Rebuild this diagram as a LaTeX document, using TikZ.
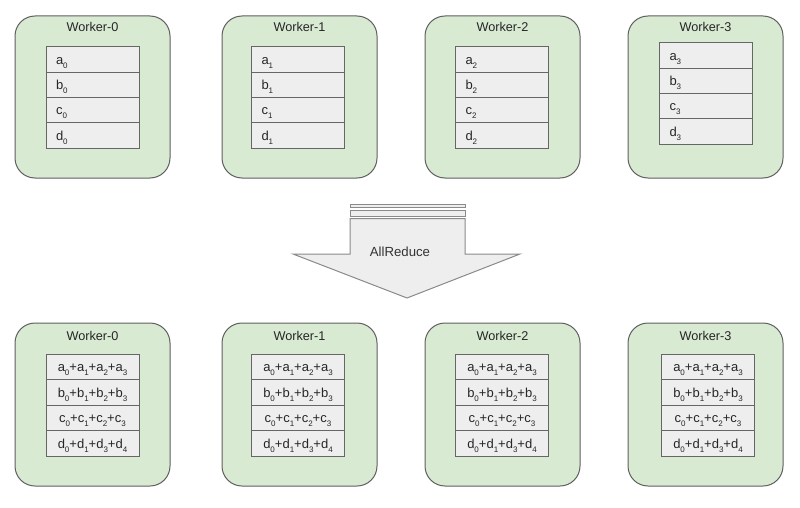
\documentclass[tikz,border=0pt]{standalone}
\usepackage{fontspec}
\setmainfont{Liberation Sans}
\definecolor{wgreen}{HTML}{D9EAD3}
\definecolor{wborder}{HTML}{5F5F5F}
\definecolor{cellfill}{HTML}{EEEEEE}
\definecolor{cellborder}{HTML}{666666}
\definecolor{arrowfill}{HTML}{EEEEEE}
\definecolor{arrowborder}{HTML}{8A8A8A}
\newcommand\sbs[1]{\raisebox{-4pt}{\fontsize{8}{8}\selectfont #1}}
\newcommand\sumrow[5]{#1\sbs{#2}+#1\sbs{#3}+#1\sbs{#4}+#1\sbs{#5}}
\begin{document}
\begin{tikzpicture}[x=1pt,y=-1pt,
  worker/.style={draw=wborder, fill=wgreen, rounded corners=20pt, line width=1pt,
    minimum width=155pt, minimum height=162pt, inner sep=0pt},
  wtitle/.style={font=\fontsize{12.7}{14}\selectfont, text=black!85, inner sep=0pt},
  cell/.style={draw=cellborder, fill=cellfill, line width=1pt, inner xsep=10pt, inner ysep=0pt,
    text width=73pt, align=left, minimum height=25.3pt, text height=11pt, text depth=1.5pt,
    font=\fontsize{13}{14}\selectfont, text=black!85},
  cellc/.style={cell, align=center},
  arrowshape/.style={draw=arrowborder, fill=arrowfill, line width=1pt, line join=miter},
  arrowtext/.style={font=\fontsize{13.2}{15}\selectfont, text=black!80, inner sep=0pt}
]
\useasboundingbox (0,0) rectangle (800,508);
% top row
\foreach \i/\cx/\sx/\sy in {0/92.5/92.5/47, 1/299.5/298/47, 2/502.5/502/47, 3/705.5/706/43} {
  \node[worker] (wt\i) at (\cx,97) {};
  \node[wtitle, anchor=base] (tt\i) at (\cx,32) {Worker-\i};
  \foreach \l [count=\k from 0] in {a,b,c,d} {
    \node[cell] (ct\i\l) at (\sx,{\sy+12.625+\k*25.25}) {\l\sbs{\i}};
  }
}
% arrow
\draw[arrowshape] (350,204) rectangle (465,207.5);
\draw[arrowshape] (350,210) rectangle (465,216);
\draw[arrowshape] (350,218.5) -- (465,218.5) -- (465,254) -- (520,254) -- (407,298)
  -- (293,254) -- (350,254) -- cycle;
\node[arrowtext, anchor=base] (ar) at (400,256) {AllReduce};
% bottom row
\foreach \i/\cx/\sx in {0/92.5/92.5, 1/299.5/298, 2/502.5/502, 3/705.5/708} {
  \node[worker, minimum height=163pt] (wb\i) at (\cx,404.5) {};
  \node[wtitle, anchor=base] (tb\i) at (\cx,340) {Worker-\i};
  \foreach \l/\p/\q/\r/\s [count=\k from 0] in {a/0/1/2/3, b/0/1/2/3, c/0/1/2/3, d/0/1/3/4} {
    \node[cellc, minimum height=25.5pt] (cb\i\l) at (\sx,{354+12.75+\k*25.5}) {\sumrow{\l}{\p}{\q}{\r}{\s}};
  }
}
\end{tikzpicture}
\end{document}
